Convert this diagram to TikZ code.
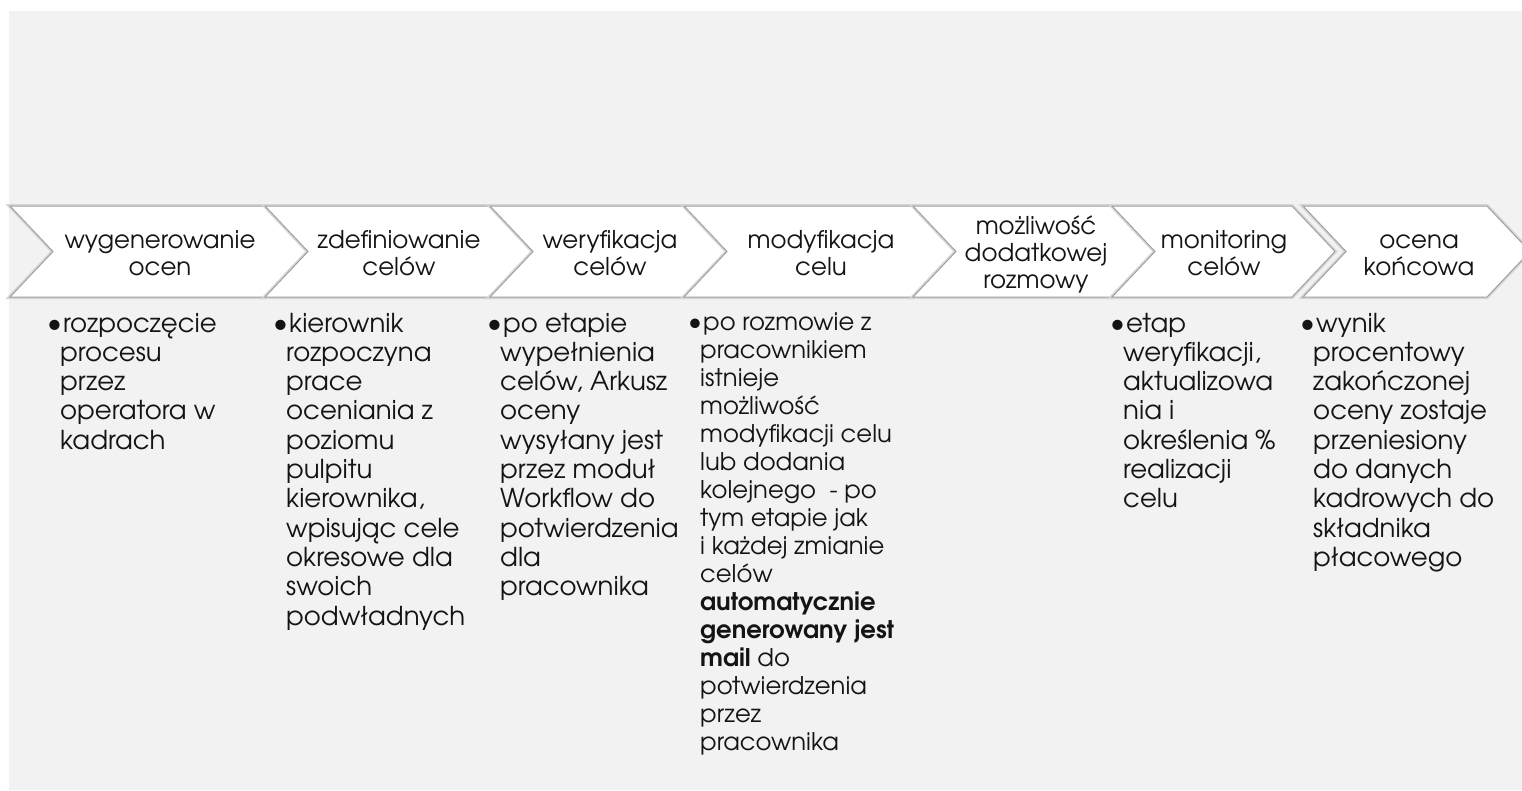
\documentclass[tikz,border=0pt]{standalone}
\usepackage{fontspec}
\setmainfont{TeX Gyre Adventor}
\definecolor{bg}{HTML}{F2F2F2}
\definecolor{edge}{HTML}{A0A0A0}
\definecolor{shade}{HTML}{D6D6D6}
\definecolor{ink}{HTML}{141414}
\newcommand{\bul}{\llap{\scalebox{1.1}{\textbullet}\kern-1.8pt}\kern3pt}
\begin{document}
\begin{tikzpicture}[x=1pt,y=-1pt,
  chev/.style={fill=white,draw=edge,line width=1pt,line join=miter},
  chevshadow/.style={draw=shade,line width=4pt,line join=miter},
  lab/.style={align=center,font=\fontsize{24.5}{27}\selectfont,text=ink,inner sep=0pt},
  body/.style={anchor=base west,align=left,inner sep=0pt,font=\fontsize{26}{29.3}\selectfont,text=ink},
  bodysm/.style={body,font=\fontsize{24.3}{28}\selectfont}]
\useasboundingbox (0,0) rectangle (1522,790);
\clip (0,0) rectangle (1522,790);
\fill[bg] (9,11) rectangle (1522,790);
% chevrons
\foreach \L/\R [count=\i] in {10/265,265/490,490/684,684/913,913/1112,1112/1292,1303/1487}{
  \draw[chevshadow] (\L,206) -- (\R,206) -- ({\R+43},251.5) -- (\R,297) -- (\L,297) -- ({\L+43},251.5) -- cycle;
  \filldraw[chev] (\L,206) -- (\R,206) -- ({\R+43},251.5) -- (\R,297) -- (\L,297) -- ({\L+43},251.5) -- cycle;
}
% labels
\node[lab] (l1) at (160,253.5) {wygenerowanie\\ocen};
\node[lab] (l2) at (399,253.5) {zdefiniowanie\\celów};
\node[lab] (l3) at (610,253.5) {weryfikacja\\celów};
\node[lab] (l4) at (821,253.5) {modyfikacja\\celu};
\node[lab] (l5) at (1036,254) {możliwość\\dodatkowej\\rozmowy};
\node[lab] (l6) at (1224,253.5) {monitoring\\celów};
\node[lab] (l7) at (1419,255.5) {ocena\\końcowa};
% bodies (anchored at the baseline of their last line)
\node[body] (b1) at (60,449.2) {\bul rozpoczęcie\\procesu\\przez\\operatora w\\kadrach};
\node[body] (b2) at (286,625) {\bul kierownik\\rozpoczyna\\prace\\oceniania z\\poziomu\\pulpitu\\kierownika,\\wpisując cele\\okresowe dla\\swoich\\podwładnych};
\node[body] (b3) at (500,595.7) {\bul po etapie\\wypełnienia\\celów, Arkusz\\oceny\\wysyłany jest\\przez moduł\\Workflow do\\potwierdzenia\\dla\\pracownika};
\node[bodysm] (b4) at (700,750) {\bul po rozmowie z\\pracownikiem\\istnieje\\możliwość\\modyfikacji celu\\lub dodania\\kolejnego~ - po\\tym etapie jak\\i każdej zmianie\\celów\\\textbf{automatycznie}\\\textbf{generowany jest}\\\textbf{mail} do\\potwierdzenia\\przez\\pracownika};
\node[body] (b6) at (1123,507.8) {\bul etap\\weryfikacji,\\aktualizowa\\nia i\\określenia \%\\realizacji\\celu};
\node[body] (b7) at (1313,566.4) {\bul wynik\\procentowy\\zakończonej\\oceny zostaje\\przeniesiony\\do danych\\kadrowych do\\składnika\\płacowego};
\end{tikzpicture}
\end{document}
